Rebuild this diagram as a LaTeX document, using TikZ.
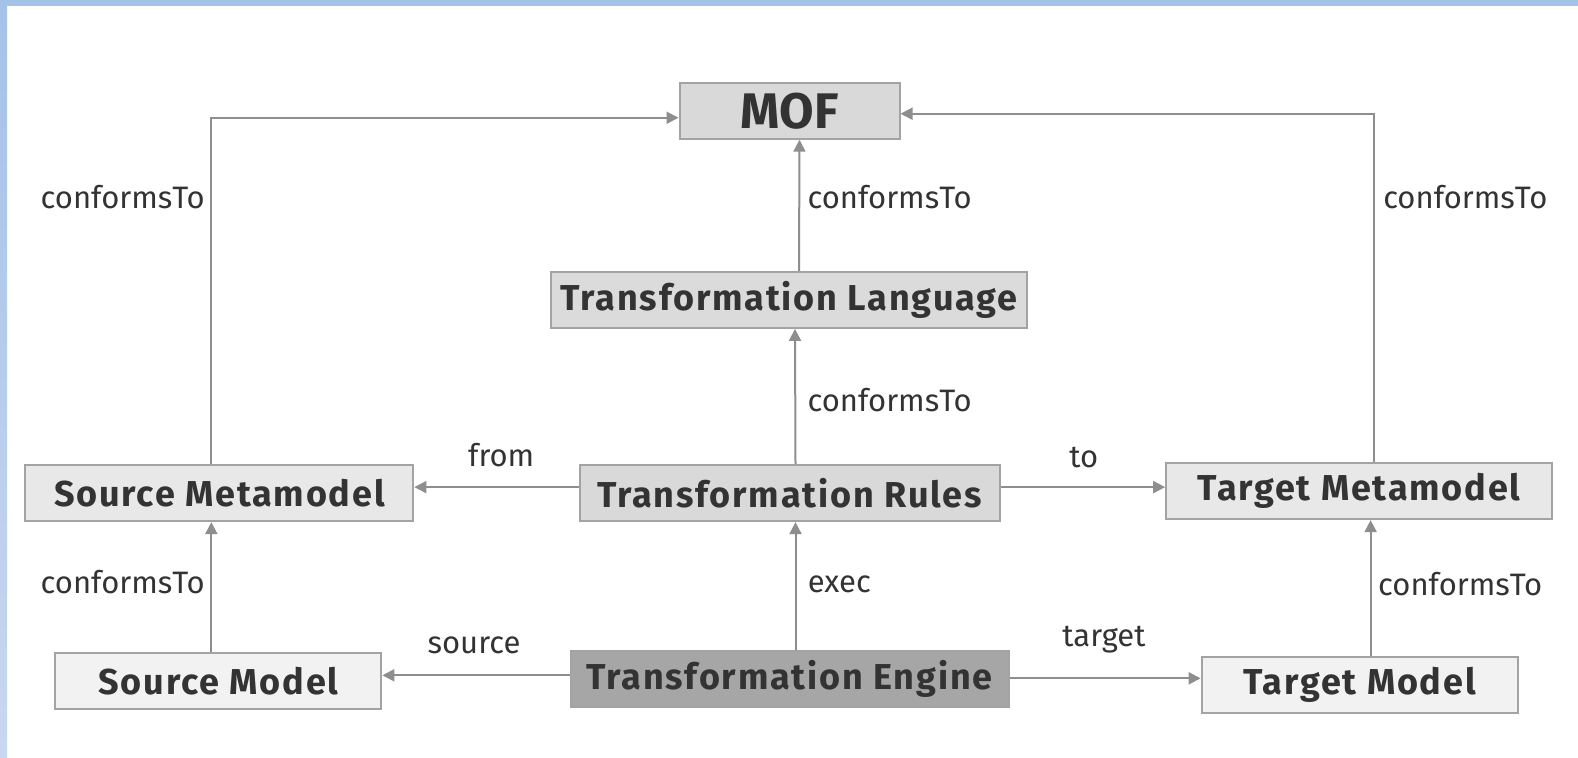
\documentclass[tikz,border=0pt]{standalone}
\usepackage{fontspec}
\setmainfont{Fira Sans}
\newfontfamily\boxfont{Fira Sans}[LetterSpace=5]
\usetikzlibrary{arrows.meta}
\definecolor{frameblue}{HTML}{A4C2E8}
\definecolor{frameblue2}{HTML}{CAD7F0}
\definecolor{linegrey}{HTML}{8E8E8E}
\definecolor{boxline}{HTML}{A3A3A3}
\definecolor{txt}{HTML}{333333}
\tikzset{
  every node/.style={text=txt},
  box/.style={draw=boxline, line width=1pt, minimum height=28pt, inner sep=0pt,
    font=\boxfont\fontsize{18}{20}\selectfont\bfseries},
  conn/.style={draw=linegrey, line width=1pt, -{Triangle[length=6pt,width=6pt]}},
  lbl/.style={font=\fontsize{15.5}{18}\selectfont, inner sep=0pt},
}
\begin{document}
\begin{tikzpicture}[x=0.5032pt, y=-0.5032pt]
  \useasboundingbox (0,0) rectangle (1568,753);
  % page frame
  \fill[white] (0,0) rectangle (1568,753);
  \shade[top color=frameblue, bottom color=frameblue2] (0,0) rectangle (7,753);
  \fill[frameblue] (0,0) rectangle (1568,6);

  % boxes
  \node[box, fill=black!15, minimum width=110pt, font=\fontsize{25}{28}\selectfont\bfseries] (mof) at (784.5,110) {MOF};
  \node[box, fill=black!14, minimum width=238pt] (lang) at (784,298) {Transformation Language};
  \node[box, fill=black!9, minimum width=194pt] (smm) at (218,490) {Source Metamodel};
  \node[box, fill=black!15, minimum width=210pt] (rules) at (784.5,490) {Transformation Rules};
  \node[box, fill=black!9, minimum width=193pt] (tmm) at (1350.5,488) {Target Metamodel};
  \node[box, fill=black!5, minimum width=163pt] (sm) at (217,677) {Source Model};
  \node[box, fill=black!35, minimum width=219pt] (eng) at (784.5,675) {Transformation Engine};
  \node[box, fill=black!5, minimum width=158pt] (tm) at (1351,680.5) {Target Model};

  % bend points of the two long connectors
  \coordinate (sbend) at (210,117);
  \coordinate (tbend) at (1365,113);

  % connectors
  \draw[conn] (smm.north -| sbend) -- (sbend) -- (sbend -| mof.west);
  \draw[conn] (tmm.north -| tbend) -- (tbend) -- (tbend -| mof.east);
  \draw[conn] ([xshift=5pt]lang.north) -- ([xshift=5pt]mof.south);
  \draw[conn] ([xshift=3pt]rules.north) -- ([xshift=3pt]lang.south);
  \draw[conn] ([yshift=3pt]rules.west) -- ([yshift=3pt]rules.west -| smm.east);
  \draw[conn] ([yshift=3pt]rules.east) -- ([yshift=3pt]rules.east -| tmm.west);
  \draw[conn] ([xshift=3pt]eng.north) -- ([xshift=3pt]rules.south);
  \draw[conn] ([yshift=2pt]eng.west) -- ([yshift=2pt]eng.west -| sm.east);
  \draw[conn] ([yshift=0.5pt]eng.east) -- ([yshift=0.5pt]eng.east -| tm.west);
  \draw[conn] (sm.north -| sbend) -- (smm.south -| sbend);
  \draw[conn] ([xshift=5.5pt]tm.north) -- ([xshift=5.5pt]tm.north |- tmm.south);

  % labels
  \node[lbl] (l1) at (122,196) {conformsTo};
  \node[lbl] (l2) at (884,196) {conformsTo};
  \node[lbl] (l3) at (1456,196) {conformsTo};
  \node[lbl] (l4) at (884,398) {conformsTo};
  \node[lbl] (l5) at (498,452) {from};
  \node[lbl] (l6) at (1077,455) {to};
  \node[lbl] (l7) at (834,581) {exec};
  \node[lbl] (l8) at (122,578) {conformsTo};
  \node[lbl] (l9) at (1451,580) {conformsTo};
  \node[lbl] (l10) at (471,641) {source};
  \node[lbl] (l11) at (1097,636) {target};
\end{tikzpicture}
\end{document}
